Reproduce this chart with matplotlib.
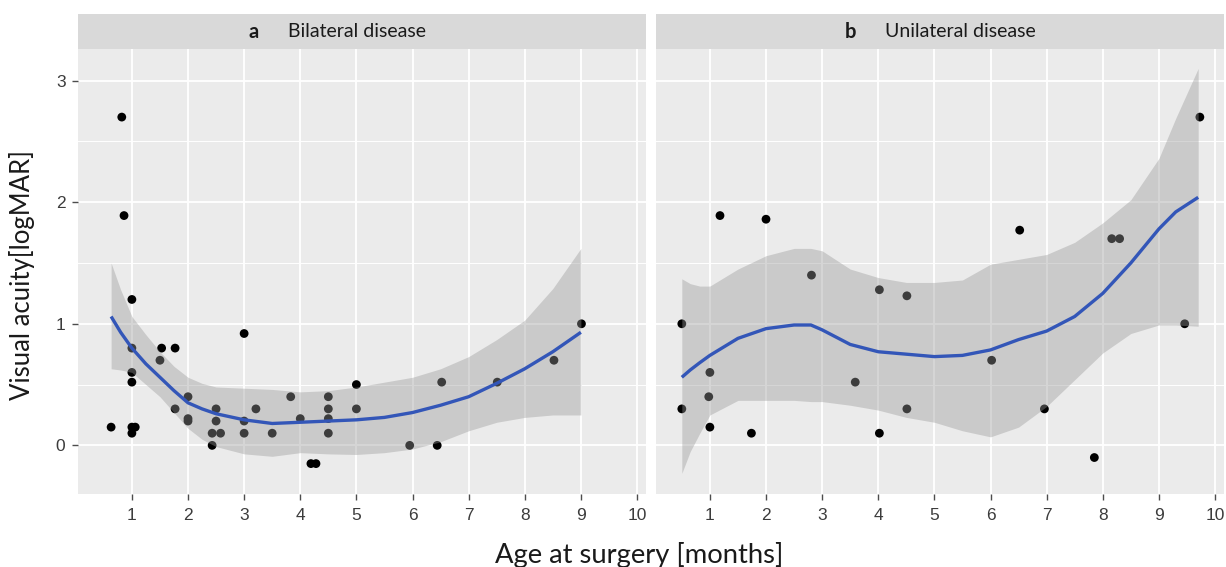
import matplotlib
matplotlib.use("Agg")
import matplotlib.pyplot as plt
from matplotlib.ticker import FixedLocator

# ---------------- data ----------------
# Panel a: Bilateral disease (observed points)
bil_x = [0.63, 0.82, 0.86, 1.0, 1.0, 1.0, 1.0, 1.0, 1.06, 1.0, 1.5, 1.53, 1.77, 1.77,
         2.0, 2.0, 2.0, 2.43, 2.58, 2.43, 2.5, 2.5, 3.0, 3.0, 3.0, 3.21, 3.5, 3.83,
         4.0, 4.19, 4.28, 4.5, 4.5, 4.5, 4.5, 5.0, 5.0, 5.95, 6.44, 6.52, 7.51, 8.52, 9.01]
bil_y = [0.15, 2.7, 1.89, 1.2, 0.8, 0.6, 0.52, 0.15, 0.15, 0.1, 0.7, 0.8, 0.8, 0.3,
         0.4, 0.22, 0.2, 0.1, 0.1, 0.0, 0.3, 0.2, 0.92, 0.2, 0.1, 0.3, 0.1, 0.4,
         0.22, -0.15, -0.15, 0.4, 0.3, 0.22, 0.1, 0.5, 0.3, 0.0, 0.0, 0.52, 0.52, 0.7, 1.0]

# Panel a: smoother
bil_fx = [0.63, 0.8, 1.0, 1.25, 1.5, 1.75, 2.0, 2.25, 2.5, 3.0, 3.5, 4.0, 4.5, 5.0,
          5.5, 6.0, 6.5, 7.0, 7.5, 8.0, 8.5, 9.0]
bil_fit = [1.06, 0.93, 0.80, 0.67, 0.56, 0.45, 0.35, 0.30, 0.26, 0.21, 0.18, 0.19, 0.20, 0.21,
           0.23, 0.27, 0.33, 0.40, 0.51, 0.63, 0.77, 0.93]
bil_hi = [1.50, 1.28, 1.06, 0.91, 0.77, 0.65, 0.56, 0.51, 0.48, 0.47, 0.46, 0.44, 0.45, 0.48,
          0.52, 0.56, 0.63, 0.73, 0.87, 1.03, 1.29, 1.62]
bil_lo = [0.63, 0.62, 0.60, 0.50, 0.40, 0.27, 0.14, 0.05, -0.01, -0.07, -0.09, -0.06, -0.07, -0.075,
          -0.06, -0.03, 0.03, 0.12, 0.19, 0.23, 0.25, 0.25]

# Panel b: Unilateral disease (observed points)
uni_x = [0.5, 0.5, 0.98, 1.0, 1.0, 1.18, 1.74, 2.0, 2.81, 3.59, 4.02, 4.02, 4.51, 4.51,
         6.02, 6.52, 6.96, 7.85, 8.16, 8.3, 9.46, 9.73]
uni_y = [1.0, 0.3, 0.4, 0.6, 0.15, 1.89, 0.1, 1.86, 1.4, 0.52, 1.28, 0.1, 1.23, 0.3,
         0.7, 1.77, 0.3, -0.1, 1.7, 1.7, 1.0, 2.7]

# Panel b: smoother
uni_fx = [0.5, 0.65, 0.82, 1.0, 1.5, 2.0, 2.5, 2.8, 3.0, 3.5, 4.0, 4.5, 5.0, 5.5, 6.0,
          6.5, 7.0, 7.5, 8.0, 8.5, 9.0, 9.3, 9.7]
uni_fit = [0.56, 0.62, 0.68, 0.74, 0.88, 0.96, 0.99, 0.99, 0.95, 0.83, 0.77, 0.75, 0.73, 0.74, 0.785,
           0.87, 0.94, 1.06, 1.25, 1.50, 1.78, 1.92, 2.04]
uni_hi = [1.37, 1.33, 1.31, 1.31, 1.45, 1.56, 1.62, 1.62, 1.60, 1.45, 1.38, 1.34, 1.34, 1.36, 1.49,
          1.53, 1.57, 1.67, 1.83, 2.02, 2.36, 2.69, 3.10]
uni_lo = [-0.23, -0.05, 0.10, 0.25, 0.37, 0.37, 0.37, 0.36, 0.36, 0.33, 0.29, 0.23, 0.19, 0.12, 0.07,
          0.15, 0.32, 0.54, 0.76, 0.92, 0.99, 0.99, 0.98]

panel_letters = ["a", "b"]
panel_titles = ["Bilateral disease", "Unilateral disease"]
x_ticks = [1, 2, 3, 4, 5, 6, 7, 8, 9, 10]
y_ticks = [0, 1, 2, 3]
x_label = "Age at surgery [months]"
y_label = "Visual acuity[logMAR]"

# ---------------- figure ----------------
W, H = 1226, 567
fig = plt.figure(figsize=(W / 100, H / 100), dpi=100)
fig.patch.set_facecolor("white")

TEXT_FONT = ["Lato", "DejaVu Sans"]
TICK_FONT = ["Liberation Sans Narrow", "Liberation Sans", "DejaVu Sans"]

def px_rect(left, top, right, bottom):
    return [left / W, 1 - bottom / H, (right - left) / W, (bottom - top) / H]

panels = [
    dict(rect=px_rect(78, 49, 646, 494), strip=px_rect(78, 14, 646, 49),
         px=bil_x, py=bil_y, fx=bil_fx, fit=bil_fit, hi=bil_hi, lo=bil_lo,
         letter_pos=0.31, title_pos=0.37, show_y=True),
    dict(rect=px_rect(656, 49, 1224, 494), strip=px_rect(656, 14, 1224, 49),
         px=uni_x, py=uni_y, fx=uni_fx, fit=uni_fit, hi=uni_hi, lo=uni_lo,
         letter_pos=0.343, title_pos=0.403, show_y=False),
]

for i, p in enumerate(panels):
    ax = fig.add_axes(p["rect"])
    ax.set_facecolor("#EBEBEB")
    for s in ax.spines.values():
        s.set_visible(False)
    ax.set_xlim(0.04, 10.16)
    ax.set_ylim(-0.40, 3.26)
    ax.xaxis.set_major_locator(FixedLocator(x_ticks))
    ax.yaxis.set_major_locator(FixedLocator(y_ticks))
    ax.yaxis.set_minor_locator(FixedLocator([-0.5, 0.5, 1.5, 2.5]))
    ax.grid(which="major", color="white", linewidth=1.3, zorder=0)
    ax.grid(which="minor", axis="y", color="white", linewidth=0.7, zorder=0)
    ax.set_axisbelow(True)
    ax.tick_params(which="major", direction="out", length=4, width=1.0,
                   color="#4D4D4D", labelcolor="#3C3C3C", labelsize=12.5)
    ax.tick_params(axis="x", pad=6)
    ax.tick_params(axis="y", pad=5)
    ax.tick_params(which="minor", length=0)
    for lab in ax.get_xticklabels() + ax.get_yticklabels():
        lab.set_family(TICK_FONT)
    if not p["show_y"]:
        ax.tick_params(axis="y", left=False, labelleft=False)

    ax.scatter(p["px"], p["py"], s=40, color="black", edgecolors="none", zorder=2)
    ax.fill_between(p["fx"], p["lo"], p["hi"], color="#999999", alpha=0.4,
                    linewidth=0, zorder=3)
    ax.plot(p["fx"], p["fit"], color="#3356B8", linewidth=2.4, zorder=4,
            solid_capstyle="butt")

    sx = fig.add_axes(p["strip"])
    sx.set_facecolor("#D9D9D9")
    sx.set_xticks([]); sx.set_yticks([])
    for s in sx.spines.values():
        s.set_visible(False)
    sx.text(p["letter_pos"], 0.5, panel_letters[i], transform=sx.transAxes,
            ha="center", va="center", fontsize=14.5, fontweight="bold",
            family=TEXT_FONT, color="#1A1A1A")
    sx.text(p["title_pos"], 0.5, panel_titles[i], transform=sx.transAxes,
            ha="left", va="center", fontsize=14, family=TEXT_FONT, color="#1A1A1A")

fig.text(639 / W, 1 - 563 / H, x_label, ha="center", va="baseline",
         fontsize=19.7, family=TEXT_FONT, color="#1A1A1A")
fig.text(22 / W, 1 - 275 / H, y_label, ha="center", va="center", rotation=90,
         fontsize=18.5, family=TEXT_FONT, color="#1A1A1A")

fig.savefig("out.png", dpi=100, facecolor="white")
